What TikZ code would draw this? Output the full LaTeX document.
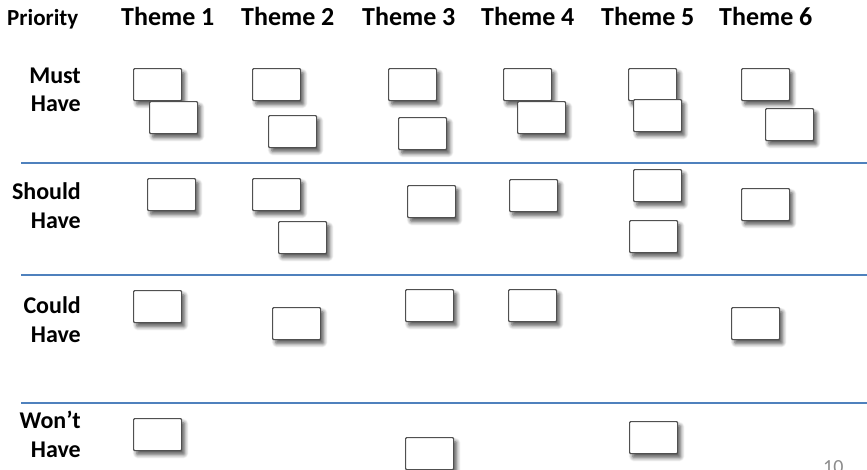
\documentclass[tikz,border=0pt]{standalone}
\usepackage{fontspec}
\setmainfont{Carlito}
\usetikzlibrary{shadows.blur}
\definecolor{rule}{HTML}{4F81BD}
\definecolor{cardline}{HTML}{505050}
\definecolor{pagenum}{HTML}{8C8C8C}
\tikzset{
  head/.style={font=\bfseries\fontsize{26}{30}\selectfont, inner sep=0pt, anchor=base west},
  rowlabel/.style={font=\bfseries\fontsize{24}{28}\selectfont, inner sep=0pt, anchor=base east},
  divider/.style={draw=rule, line width=2pt},
  card/.style={draw=cardline, line width=1.2pt, fill=white, rounded corners=1pt,
    minimum width=48pt, minimum height=32pt, inner sep=0pt, anchor=north west,
    blur shadow={shadow xshift=3pt, shadow yshift=-4pt, shadow blur radius=4pt,
      shadow blur steps=8, shadow opacity=68}},
}
\begin{document}
\begin{tikzpicture}[x=1pt, y=-1pt]
\useasboundingbox (0,0) rectangle (867,469);

% column headings
\node[head, font=\bfseries\fontsize{23}{27}\selectfont] (prio) at (7,25) {Priority};
\node[head] (th1) at (121,25) {Theme 1};
\node[head] (th2) at (241,25) {Theme 2};
\node[head] (th3) at (362,25) {Theme 3};
\node[head] (th4) at (481,25) {Theme 4};
\node[head] (th5) at (601,25) {Theme 5};
\node[head] (th6) at (719,25) {Theme 6};

% priority labels
\node[rowlabel] (mustA) at (81,83) {Must};
\node[rowlabel] (mustB) at (81,111) {Have};
\node[rowlabel] (shouldA) at (81,199) {Should};
\node[rowlabel] (shouldB) at (81,228) {Have};
\node[rowlabel] (couldA) at (81,313) {Could};
\node[rowlabel] (couldB) at (81,342) {Have};
\node[rowlabel] (wontA) at (81,428) {Won’t};
\node[rowlabel] (wontB) at (81,457) {Have};

% dividers between priority bands
\coordinate (d1l) at (21,163); \coordinate (d1r) at (867,163);
\coordinate (d2l) at (21,275); \coordinate (d2r) at (867,275);
\coordinate (d3l) at (21,403); \coordinate (d3r) at (867,403);
\draw[divider] (d1l) -- (d1r);
\draw[divider] (d2l) -- (d2r);
\draw[divider] (d3l) -- (d3r);

% Must Have cards
\node[card] (m1a) at (133,68) {};
\node[card] (m1b) at (149,101) {};
\node[card] (m2a) at (252,68) {};
\node[card] (m2b) at (268,115) {};
\node[card] (m3a) at (388,68) {};
\node[card] (m3b) at (398,117) {};
\node[card] (m4a) at (503,68) {};
\node[card] (m4b) at (517,101) {};
\node[card] (m5a) at (628,68) {};
\node[card] (m5b) at (633,99) {};
\node[card] (m6a) at (741,68) {};
\node[card] (m6b) at (765,108) {};

% Should Have cards
\node[card] (s1) at (147,178) {};
\node[card] (s2a) at (252,178) {};
\node[card] (s2b) at (278,221) {};
\node[card] (s3) at (407,185) {};
\node[card] (s4) at (509,179) {};
\node[card] (s5a) at (633,169) {};
\node[card] (s5b) at (629,220) {};
\node[card] (s6) at (741,188) {};

% Could Have cards
\node[card] (c1) at (133,290) {};
\node[card] (c2) at (272,307) {};
\node[card] (c3) at (405,289) {};
\node[card] (c4) at (508,289) {};
\node[card] (c6) at (731,307) {};

% Won't Have cards
\node[card] (w1) at (133,418) {};
\node[card] (w3) at (405,437) {};
\node[card] (w5) at (629,421) {};

% slide number, running off the lower edge
\node[font=\fontsize{20}{24}\selectfont, text=pagenum, inner sep=0pt, anchor=base west] (pg) at (823,473) {10};
\end{tikzpicture}
\end{document}
